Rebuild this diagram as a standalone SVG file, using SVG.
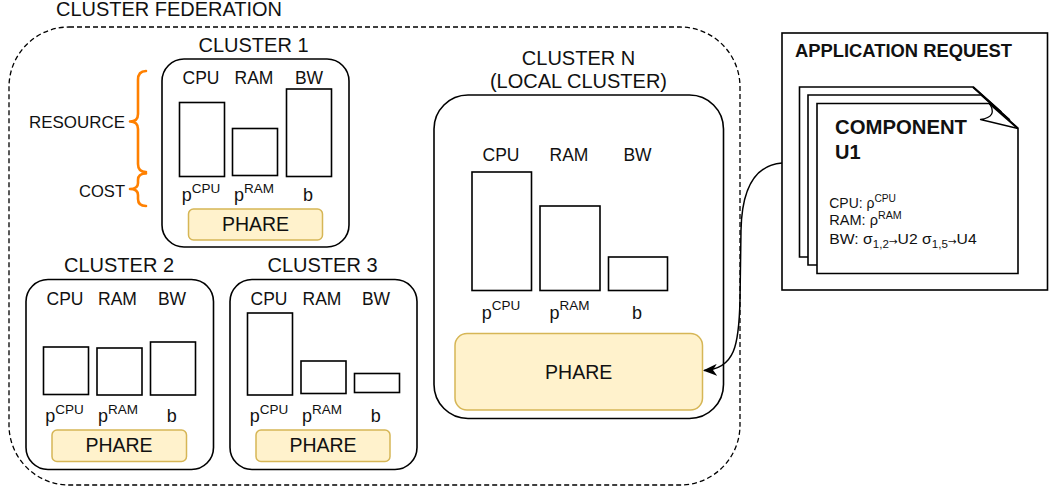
<svg xmlns="http://www.w3.org/2000/svg" width="1049" height="491" viewBox="0 0 1049 491">
  <style>
    text { font-family: "Liberation Sans", Arial, sans-serif; fill: #111; }
    .title { font-size: 20px; text-anchor: middle; }
    .lbl { font-size: 17.5px; text-anchor: middle; }
    .p { font-size: 18px; text-anchor: middle; }
    .sup { font-size: 13.5px; }
    .phare-t { font-size: 19.5px; text-anchor: middle; }
    .box { fill: #fff; stroke: #000; stroke-width: 1.6; }
    .bar { fill: #fff; stroke: #000; stroke-width: 1.6; }
    .phare { fill: #fff2cc; stroke: #d6b656; stroke-width: 1.5; }
    .brace { fill: none; stroke: #ff8000; stroke-width: 2.6; stroke-linecap: round; stroke-linejoin: round; }
    .page { fill: #fff; stroke: #000; stroke-width: 1.6; stroke-linejoin: miter; }
    .small { font-size: 15px; }
    .small .s { font-size: 11px; }
    .small .ar { font-size: 10px; font-family: "DejaVu Sans", sans-serif; }
  </style>
  <defs>
    <marker id="arrow" markerUnits="userSpaceOnUse" markerWidth="14" markerHeight="12" viewBox="0 0 14 12" refX="13" refY="6" orient="auto">
      <path d="M0,0 L14,6 L0,12 L4,6 Z" fill="#000"/>
    </marker>
  </defs>

  <!-- federation boundary -->
  <g id="federation">
    <rect x="9" y="27" width="731" height="458" rx="60" ry="60" fill="none" stroke="#000" stroke-width="1.3" stroke-dasharray="5 3"/>
    <text x="169" y="16" class="title" textLength="226" lengthAdjust="spacingAndGlyphs">CLUSTER FEDERATION</text>
  </g>

  <!-- resource / cost legend -->
  <g id="legend">
    <path class="brace" d="M146,71 Q138,71 138,80 L138,114 Q138,121.5 130,121.5 Q138,121.5 138,129 L138,164 Q138,172 146,172"/>
    <path class="brace" d="M146,173.5 Q138,173.5 138,180 L138,183 Q138,189 130,189 Q138,189 138,195 L138,199 Q138,206 146,206"/>
    <text x="125" y="128" font-size="16.5" text-anchor="end" textLength="96" lengthAdjust="spacingAndGlyphs">RESOURCE</text>
    <text x="125" y="196.5" font-size="16.5" text-anchor="end" textLength="46" lengthAdjust="spacingAndGlyphs">COST</text>
  </g>

  <!-- cluster 1 -->
  <g id="cluster1">
    <text x="253.5" y="51.7" class="title">CLUSTER 1</text>
    <rect class="box" x="162" y="59" width="187" height="188" rx="22"/>
    <text x="201" y="84.3" class="lbl">CPU</text>
    <text x="254" y="84.3" class="lbl">RAM</text>
    <text x="309" y="84.3" class="lbl">BW</text>
    <rect class="bar" x="179.5" y="102.5" width="45" height="74"/>
    <rect class="bar" x="232.5" y="128.5" width="45" height="47"/>
    <rect class="bar" x="286.5" y="89" width="45" height="87.5"/>
    <text x="201" y="200.5" class="p">p<tspan class="sup" dy="-8">CPU</tspan></text>
    <text x="254" y="200.5" class="p">p<tspan class="sup" dy="-8">RAM</tspan></text>
    <text x="308" y="200.5" class="p">b</text>
    <rect class="phare" x="188.5" y="209" width="134" height="31" rx="5"/>
    <text x="255.5" y="231" class="phare-t">PHARE</text>
  </g>

  <!-- cluster 2 -->
  <g id="cluster2">
    <text x="119" y="272.3" class="title">CLUSTER 2</text>
    <rect class="box" x="26" y="279.5" width="187.5" height="190" rx="22"/>
    <text x="65" y="305" class="lbl">CPU</text>
    <text x="117.5" y="305" class="lbl">RAM</text>
    <text x="172" y="305" class="lbl">BW</text>
    <rect class="bar" x="43.5" y="347" width="45" height="47.5"/>
    <rect class="bar" x="97" y="348" width="45" height="47"/>
    <rect class="bar" x="150.5" y="342" width="45" height="53"/>
    <text x="64.5" y="422" class="p">p<tspan class="sup" dy="-8">CPU</tspan></text>
    <text x="118" y="422" class="p">p<tspan class="sup" dy="-8">RAM</tspan></text>
    <text x="171.7" y="422" class="p">b</text>
    <rect class="phare" x="52" y="430" width="134.5" height="31.5" rx="5"/>
    <text x="119" y="452" class="phare-t">PHARE</text>
  </g>

  <!-- cluster 3 -->
  <g id="cluster3">
    <text x="322.5" y="272.3" class="title">CLUSTER 3</text>
    <rect class="box" x="230" y="279.5" width="187" height="190" rx="22"/>
    <text x="269" y="305" class="lbl">CPU</text>
    <text x="322" y="305" class="lbl">RAM</text>
    <text x="376" y="305" class="lbl">BW</text>
    <rect class="bar" x="247.5" y="313" width="45" height="82"/>
    <rect class="bar" x="301" y="361" width="45" height="32.5"/>
    <rect class="bar" x="354.5" y="373.5" width="45" height="19"/>
    <text x="269" y="422" class="p">p<tspan class="sup" dy="-8">CPU</tspan></text>
    <text x="322" y="422" class="p">p<tspan class="sup" dy="-8">RAM</tspan></text>
    <text x="375.7" y="422" class="p">b</text>
    <rect class="phare" x="256" y="430" width="134" height="31.5" rx="5"/>
    <text x="323" y="452" class="phare-t">PHARE</text>
  </g>

  <!-- cluster N (local) -->
  <g id="clusterN">
    <text x="578.5" y="64.5" class="title">CLUSTER N</text>
    <text x="578.5" y="87.5" class="title">(LOCAL CLUSTER)</text>
    <rect class="box" x="434" y="95" width="289.5" height="323.5" rx="34"/>
    <text x="501" y="160.7" class="lbl">CPU</text>
    <text x="569" y="160.7" class="lbl">RAM</text>
    <text x="637.5" y="160.7" class="lbl">BW</text>
    <rect class="bar" x="472" y="172" width="59.5" height="118.5"/>
    <rect class="bar" x="540" y="206" width="60" height="84.5"/>
    <rect class="bar" x="608.5" y="257" width="59" height="33.5"/>
    <text x="501" y="319" class="p">p<tspan class="sup" dy="-9">CPU</tspan></text>
    <text x="569.5" y="319" class="p">p<tspan class="sup" dy="-9">RAM</tspan></text>
    <text x="637" y="319" class="p">b</text>
    <rect class="phare" x="455" y="333.5" width="247.5" height="76.5" rx="12"/>
    <text x="578.7" y="378.5" class="phare-t">PHARE</text>
  </g>

  <!-- application request -->
  <g id="app-request">
    <rect x="782" y="33" width="265.5" height="257" fill="#fff" stroke="#000" stroke-width="1.6"/>
    <text x="795" y="57" font-size="18" font-weight="bold" textLength="217" lengthAdjust="spacingAndGlyphs">APPLICATION REQUEST</text>
    <!-- stacked component pages -->
    <path class="page" d="M799.5,87 L973,87 L1001,112 L1001,257 L799.5,257 Z"/>
    <path class="page" d="M808,95 L981.5,95 L1009.5,120 L1009.5,265 L808,265 Z"/>
    <path class="page" d="M817,103.5 L989.5,103.5 L1018,128.5 L1018,273.5 L817,273.5 Z"/>
    <path d="M989.5,103.5 Q998,117 980.5,119.5 L1018,128.5" fill="#fff" stroke="#000" stroke-width="1.3" stroke-linejoin="round"/>
    <path d="M973,87 L1001,112 M981.5,95 L1009.5,120 M989.5,103.5 L1018,128.5" fill="none" stroke="#000" stroke-width="2.2"/>
    <text x="835" y="133.5" font-size="20" font-weight="bold" textLength="132" lengthAdjust="spacingAndGlyphs">COMPONENT</text>
    <text x="835" y="158.5" font-size="20" font-weight="bold">U1</text>
    <text x="829.3" y="208" class="small" textLength="66.7" lengthAdjust="spacingAndGlyphs">CPU: ρ<tspan class="s" dy="-6">CPU</tspan></text>
    <text x="829.3" y="225" class="small" textLength="72.4" lengthAdjust="spacingAndGlyphs">RAM: ρ<tspan class="s" dy="-6">RAM</tspan></text>
    <text x="829.3" y="244" class="small" textLength="147.4" lengthAdjust="spacingAndGlyphs">BW: σ<tspan class="s" dy="4">1,2</tspan><tspan class="ar" dy="-3">→</tspan><tspan dy="-1">U2 σ</tspan><tspan class="s" dy="4">1,5</tspan><tspan class="ar" dy="-3">→</tspan><tspan dy="-1">U4</tspan></text>
  </g>

  <!-- connectors -->
  <g id="connectors">
    <path d="M782,163 C756,165 742,186 741,230 L740,300 C739,345 735,369 704,370.5" fill="none" stroke="#000" stroke-width="1.5" marker-end="url(#arrow)"/>
  </g>
</svg>
